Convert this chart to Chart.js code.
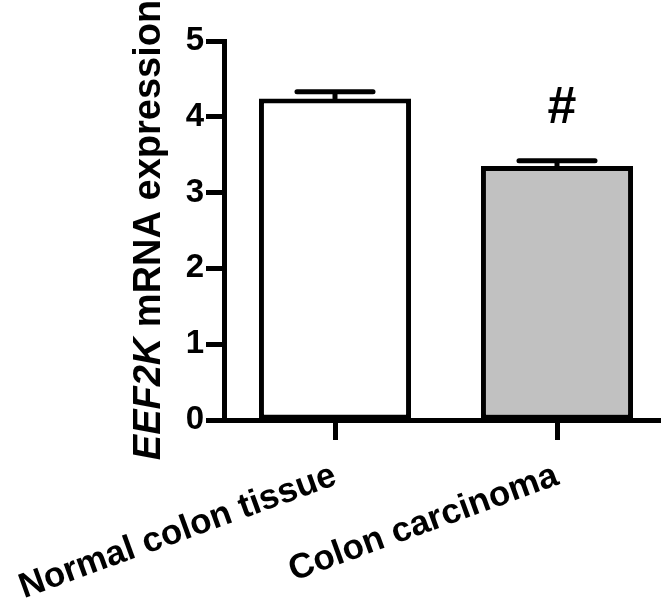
<!DOCTYPE html>
<html>
<head>
<meta charset="utf-8">
<script src="https://cdn.jsdelivr.net/npm/chart.js@4/dist/chart.umd.min.js"></script>
<style>
  html, body { margin: 0; padding: 0; background: #fff; overflow: hidden; }
</style>
</head>
<body>
<canvas id="myChart" width="670" height="602"></canvas>
<script>
// groups along the x-axis
var categories = ['Normal colon tissue', 'Colon carcinoma'];
// mean and SEM for each group
var means = [4.24, 3.35];
var sems = [0.09, 0.07];
var fills = ['#ffffff', '#c1c1c1'];
// significance marks over each bar
var marks = ['', '#'];
var yTicks = [0, 1, 2, 3, 4, 5];

var FONT = '"Liberation Sans", Arial, sans-serif';

// error bars + significance marks
var errorBars = {
    id: 'errorBars',
    afterDatasetsDraw: function (chart) {
        var ctx = chart.ctx;
        var yScale = chart.scales.y;
        var meta = chart.getDatasetMeta(0);
        ctx.save();
        ctx.strokeStyle = '#000';
        ctx.lineWidth = 5;
        ctx.lineCap = 'round';
        meta.data.forEach(function (bar, i) {
            var yCap = yScale.getPixelForValue(means[i] + sems[i]);
            var half = bar.width / 4;
            ctx.beginPath();
            ctx.moveTo(bar.x, bar.y);
            ctx.lineTo(bar.x, yCap);
            ctx.moveTo(bar.x - half, yCap);
            ctx.lineTo(bar.x + half, yCap);
            ctx.stroke();
            if (marks[i]) {
                ctx.fillStyle = '#000';
                ctx.font = 'bold 52px ' + FONT;
                ctx.textAlign = 'center';
                ctx.textBaseline = 'middle';
                ctx.fillText(marks[i], bar.x + 5, yCap - 52);
            }
        });
        ctx.restore();
    }
};

// y title with italic gene name
var yTitle = {
    id: 'yTitle',
    afterDraw: function (chart) {
        var ctx = chart.ctx;
        var parts = [['italic bold 38px ' + FONT, 'EEF2K'], ['bold 38px ' + FONT, ' mRNA expression']];
        ctx.save();
        ctx.translate(150, 230);
        ctx.rotate(-Math.PI / 2);
        ctx.fillStyle = '#000';
        ctx.textBaseline = 'middle';
        ctx.textAlign = 'left';
        var total = 0;
        parts.forEach(function (p) { ctx.font = p[0]; total += ctx.measureText(p[1]).width; });
        var x = -total / 2;
        parts.forEach(function (p) {
            ctx.font = p[0];
            ctx.fillText(p[1], x, 0);
            x += ctx.measureText(p[1]).width;
        });
        ctx.restore();
    }
};

var ctx = document.getElementById('myChart');

var myChart = new Chart(ctx, {
    type: 'bar',
    data: {
        labels: categories,
        datasets: [{
            data: means,
            backgroundColor: fills,
            borderColor: '#000',
            borderWidth: 5,
            borderSkipped: false,
            barPercentage: 0.685,
            categoryPercentage: 1
        }]
    },
    options: {
        responsive: false,
        animation: false,
        devicePixelRatio: 1,
        layout: { padding: { top: 41, right: 2, left: 0, bottom: 0 } },
        plugins: { legend: { display: false }, tooltip: { enabled: false } },
        scales: {
            x: {
                border: { color: '#000', width: 5 },
                grid: { drawOnChartArea: false, offset: false, tickLength: 20, tickWidth: 5, tickColor: '#000' },
                ticks: {
                    color: '#000', minRotation: 20, maxRotation: 20, padding: 15,
                    font: { family: FONT, size: 35, weight: 'bold' }
                },
                afterFit: function (scale) {
                    scale.height = 182;
                    scale.paddingLeft = 0;
                    scale.paddingRight = 0;
                }
            },
            y: {
                min: 0,
                max: 5,
                border: { color: '#000', width: 5 },
                grid: { drawOnChartArea: false, tickLength: 18, tickWidth: 5, tickColor: '#000' },
                afterBuildTicks: function (scale) {
                    scale.ticks = yTicks.map(function (v) { return { value: v }; });
                },
                ticks: {
                    color: '#000', padding: 2,
                    font: { family: FONT, size: 33, weight: 'bold' }
                },
                afterFit: function (scale) {
                    scale.width = 224;
                }
            }
        }
    },
    plugins: [errorBars, yTitle]
});
</script>
</body>
</html>
